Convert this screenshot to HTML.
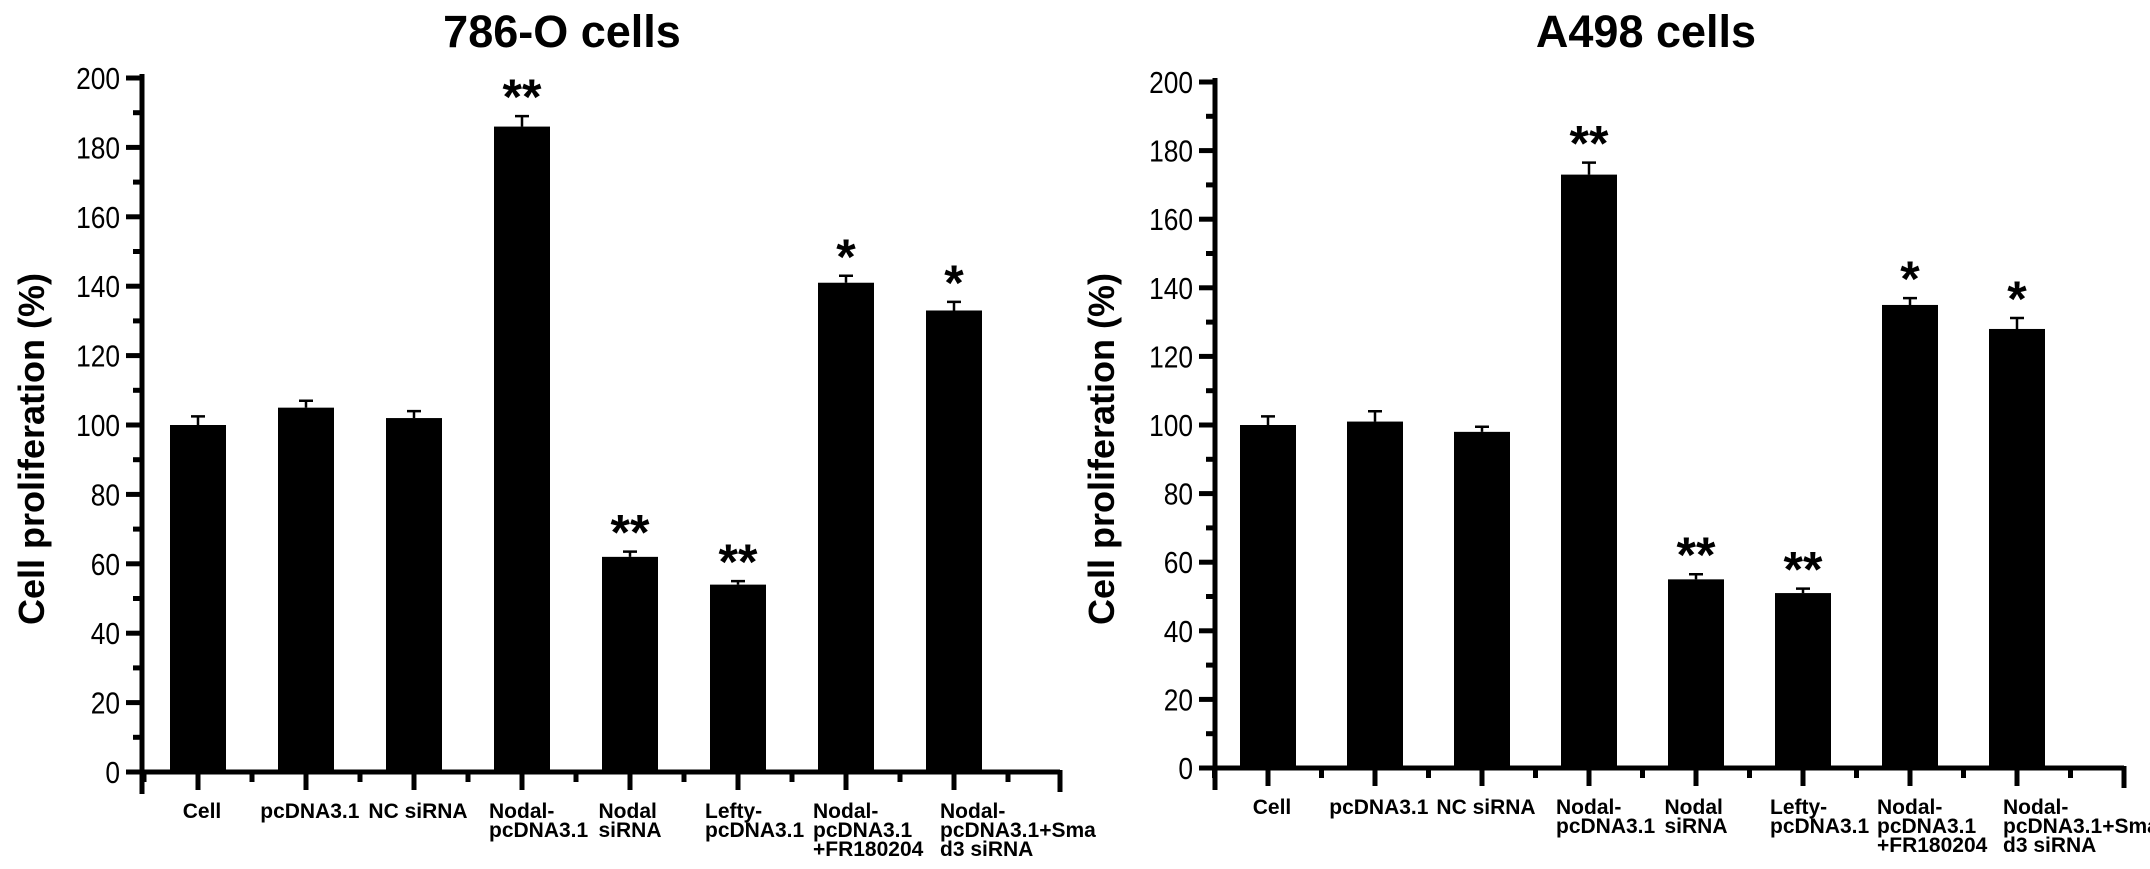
<!DOCTYPE html>
<html><head><meta charset="utf-8"><style>
html,body{margin:0;padding:0;background:#fff;}
svg{display:block;font-family:"Liberation Sans",Arial,sans-serif;}
</style></head><body>
<svg id="fig" width="2150" height="869" viewBox="0 0 2150 869" xmlns="http://www.w3.org/2000/svg"></svg>
<script>
const categories = ["Cell","pcDNA3.1","NC siRNA","Nodal-\npcDNA3.1","Nodal\nsiRNA","Lefty-\npcDNA3.1","Nodal-\npcDNA3.1\n+FR180204","Nodal-\npcDNA3.1+Sma\nd3 siRNA"];
const values786 = [100,105,102,186,62,54,141,133];
const errors786 = [2.5,2,2,3,1.5,1,2,2.5];
const stars786 = ["","","","**","**","**","*","*"];
const valuesA498 = [100,101,98,173,55,51,135,128];
const errorsA498 = [2.5,3,1.5,3.5,1.5,1.3,2,3.2];
const starsA498 = ["","","","**","**","**","*","*"];
const yTicks = [0,20,40,60,80,100,120,140,160,180,200];

const NS="http://www.w3.org/2000/svg";
const svg=document.getElementById('fig');
function mk(tag,attrs,parent){const e=document.createElementNS(NS,tag);for(const k in attrs)e.setAttribute(k,attrs[k]);(parent||svg).appendChild(e);return e;}

function drawChart(cfg,vals,errs,stars,key){
  const g=mk('g',{});
  
  
  const y=v=>cfg.y0-(v/200)*(cfg.y0-cfg.y200);
  const x=i=>cfg.x0+i*cfg.step;
  const t=mk('text',{x:cfg.titleX,y:47,'text-anchor':'middle','font-size':45,'font-weight':'bold'},g);
  t.textContent=cfg.title;
  
  
  const yt=mk('text',{transform:`translate(${cfg.ytX},${(cfg.y0+cfg.y200)/2+24}) rotate(-90)`,'text-anchor':'middle','font-size':36,'font-weight':'bold'},g);
  yt.textContent='Cell proliferation (%)';
  
  
  vals.forEach((v,i)=>{
    const cx=x(i),top=y(v);
    const b=mk('rect',{x:cx-28,y:top,width:56,height:cfg.y0-top,fill:'#000'},g);
    
    
    const et=y(v+errs[i]);
    const e=mk('path',{d:`M${cx} ${top} V${et} M${cx-7} ${et} H${cx+7}`,stroke:'#000','stroke-width':2.5,fill:'none'},g);
    
    
    if(stars[i]){
      const s=mk('text',{x:cx,y:et-2,'text-anchor':'middle','font-size':50,'font-weight':'bold'},g);
      s.textContent=stars[i];
      
      
    }
    const lines=categories[i].split('\n');
    const lt=mk('text',{x:0,y:cfg.y0+46,'font-size':21,'font-weight':'bold'},g);
    
    
    lines.forEach((l,j)=>{
      const ts=mk('tspan',{x:0,dy:j?19:0},lt);
      ts.textContent=l;
    });
    const w=lt.getBBox().width;
    let shift;
    if(lines.length===1) shift=cx-w/2+4;
    else if(w>130) shift=cx-14;
    else shift=cx-Math.min(w/2,33);
    lt.setAttribute('transform',`translate(${shift},0)`);
  });
  const ax=mk('path',{d:`M${cfg.ax} ${cfg.y200-4} V${cfg.y0+22} M${cfg.ax-2} ${cfg.y0} H${cfg.xEnd}`,stroke:'#000','stroke-width':5,fill:'none'},g);
  
  
  let d='';
  for(let i=0;i<vals.length;i++){d+=`M${x(i)} ${cfg.y0} v18 `;d+=`M${x(i)-cfg.step/2} ${cfg.y0} v10 `;}
  d+=`M${x(vals.length-1)+cfg.step/2} ${cfg.y0} v10 M${cfg.xEnd} ${cfg.y0-2} v22`;
  const xt=mk('path',{d:d,stroke:'#000','stroke-width':5,fill:'none'},g);
  
  
  yTicks.forEach((v,i)=>{
    const yy=y(v);
    mk('path',{d:`M${cfg.ax-16} ${yy} H${cfg.ax}`,stroke:'#000','stroke-width':5},g);
    if(i<yTicks.length-1) mk('path',{d:`M${cfg.ax-9} ${y(v+10)} H${cfg.ax}`,stroke:'#000','stroke-width':5},g);
    const lbl=mk('text',{transform:`translate(${cfg.ax-22},${yy+11}) scale(0.85,1)`,'text-anchor':'end','font-size':31},g);
    lbl.textContent=v;
    
    
  });
}
drawChart({title:'786-O cells',titleX:562,ytX:44,ax:142,x0:198,step:108,y0:772,y200:78,xEnd:1060},values786,errors786,stars786,'786o');
drawChart({title:'A498 cells',titleX:1646,ytX:1114,ax:1215,x0:1268,step:107,y0:768,y200:82,xEnd:2124},valuesA498,errorsA498,starsA498,'a498');
</script>
</body></html>
